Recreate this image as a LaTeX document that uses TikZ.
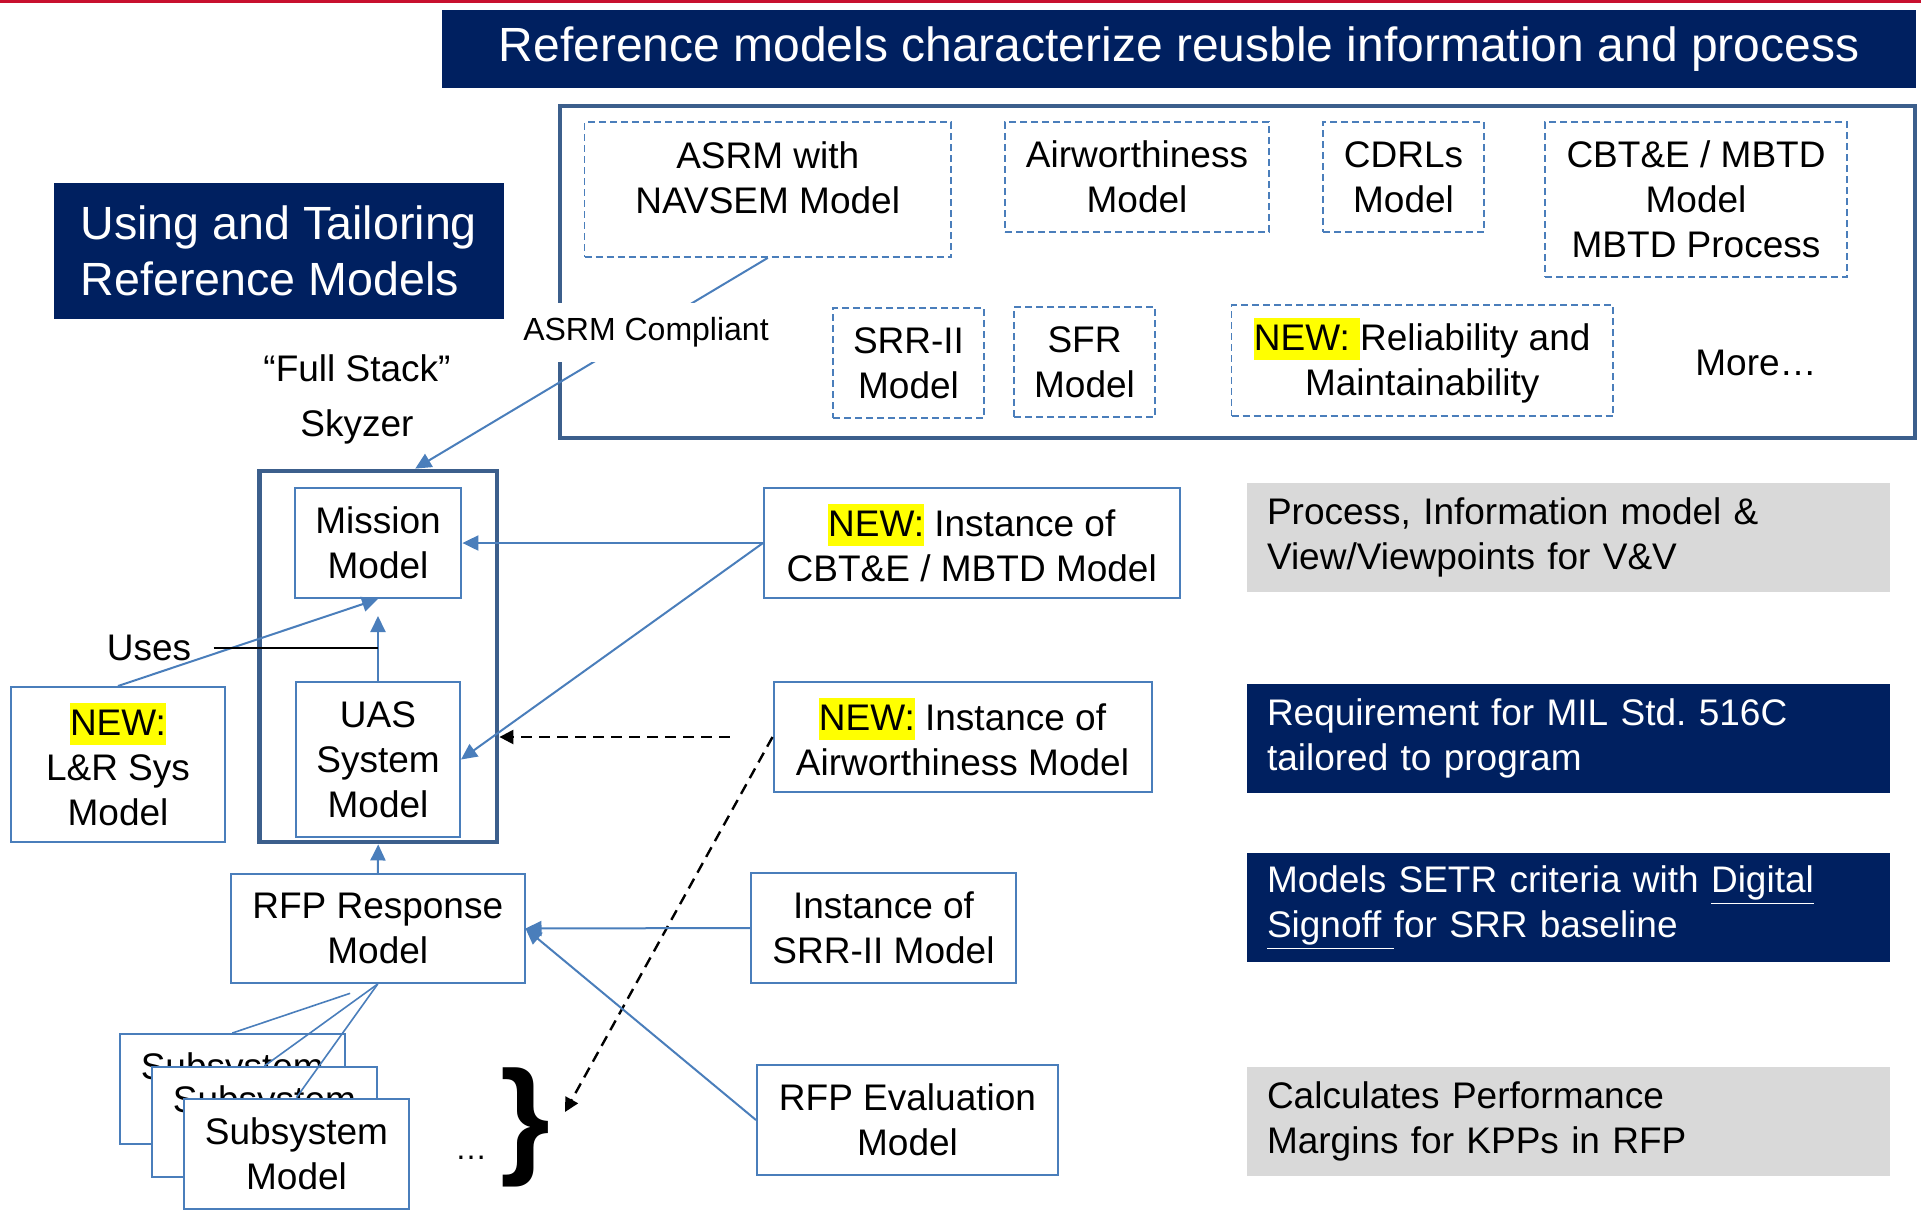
\documentclass[tikz,border=0pt]{standalone}
\usepackage{fontspec}
\setmainfont{Liberation Sans}
\usetikzlibrary{arrows.meta,calc}
\definecolor{navy}{RGB}{0,32,96}
\definecolor{lblue}{RGB}{74,126,187}
\definecolor{dblue}{RGB}{60,95,140}
\definecolor{gray9}{RGB}{217,217,217}
\definecolor{hlyel}{RGB}{255,255,0}
\definecolor{topred}{RGB}{200,16,46}
\frenchspacing

\begin{document}
\begin{tikzpicture}[x=0.5pt,y=-0.5pt,
  f/.style={font=\fontsize{18.5}{22.5}\selectfont},
  mb/.style={f,draw=lblue,line width=1pt,fill=white,align=center,inner sep=0pt},
  db/.style={f,draw=lblue,line width=0.9pt,dash pattern=on 3.5pt off 2pt,align=center,inner sep=0pt},
  rb/.style={f,inner sep=0pt,minimum width=321.35pt,minimum height=54.5pt,text width=301.35pt,align=left},
  hd/.style={fill=navy,text=white,inner sep=0pt},
  ar/.style={draw=lblue,line width=1pt,-{Triangle[length=8pt,width=7.5pt]}},
  da/.style={draw=black,line width=1.2pt,dash pattern=on 5.5pt off 3.5pt,-{Triangle[length=7pt,width=7pt]}},
  ln/.style={draw=lblue,line width=0.8pt}]
  % yellow marker behind a word
  \newcommand{\hlt}[1]{{\setlength{\fboxsep}{0pt}\colorbox{hlyel}{\rule[-0.26em]{0pt}{1.125em}#1}}}

  \useasboundingbox (0,0) rectangle (1921,1211);
  \draw[topred,line width=1.5pt] (0,1.5) -- (1921,1.5);

  % headers
  \node[hd,minimum width=737pt,minimum height=39pt,font=\fontsize{24}{28.8}\selectfont] (title) at (1179,49)
    {Reference models characterize reusble information and process};
  \node[hd,minimum width=224.8pt,minimum height=67.85pt,align=left,
    font=\fontsize{23.3}{28.2}\selectfont] (using) at (278.8,250.85) {Using and Tailoring\\Reference Models};

  % library of reference models
  \node[draw=dblue,line width=2.2pt,minimum width=677.5pt,minimum height=166pt,inner sep=0pt] (lib) at (1237.5,272) {};
  \node[db,minimum width=183.25pt,minimum height=67.5pt] (asrm) at (767.75,189.5) {};
  \node[f,align=center] (asrmtxt) at (767.75,177.5) {ASRM with\\NAVSEM Model};
  \node[db,minimum width=132pt,minimum height=55pt] (air) at (1137,177) {Airworthiness\\Model};
  \node[db,minimum width=80.5pt,minimum height=55pt] (cdrl) at (1403.5,177) {CDRLs\\Model};
  \node[db,minimum width=151pt,minimum height=77.5pt] (cbtm) at (1696,199.5) {CBT\&E / MBTD\\Model\\MBTD Process};
  \node[db,minimum width=75.5pt,minimum height=55pt] (srrm) at (908.5,363) {SRR-II\\Model};
  \node[db,minimum width=70.5pt,minimum height=55pt] (sfr) at (1084.5,362) {SFR\\Model};
  \node[db,minimum width=190.75pt,minimum height=55.5pt] (relm) at (1422.25,360.5) {\hlt{NEW:~}Reliability and\\Maintainability};
  \node[f] (more) at (1756,363) {More…};

  % full stack
  \node[draw=dblue,line width=2.4pt,minimum width=118.75pt,minimum height=185.5pt,inner sep=0pt] (stack) at (378.25,656.5) {};
  \node[f,align=center] (stk) at (357,399) {“Full Stack”\\[5pt]Skyzer};
  \node[mb,minimum width=83.4pt,minimum height=55pt] (mission) at (378,543) {Mission\\Model};
  \node[mb,minimum width=82pt,minimum height=77.5pt] (uas) at (378,759.5) {UAS\\System\\Model};
  \node[mb,minimum width=107pt,minimum height=77.5pt] (lr) at (118,764.5) {\hlt{NEW:}\\L\&R Sys\\Model};
  \node[f,inner xsep=11pt] (uses) at (149,648) {Uses};

  % instances
  \node[mb,minimum width=207.75pt,minimum height=55pt] (cbt) at (971.75,543) {\hlt{NEW:} Instance of\\CBT\&E / MBTD Model};
  \node[mb,minimum width=189pt,minimum height=55pt] (aw) at (962.5,737) {\hlt{NEW:} Instance of\\Airworthiness Model};
  \node[mb,minimum width=146.75pt,minimum height=54.5pt] (rfp) at (377.75,928.5) {RFP Response\\Model};
  \node[mb,minimum width=132.5pt,minimum height=55pt] (srr) at (883.5,928) {Instance of\\SRR-II Model};
  \node[mb,minimum width=150.5pt,minimum height=55pt] (eval) at (907.5,1120) {RFP Evaluation\\Model};
  \foreach \i/\x/\y in {1/232.3/1089,2/264.4/1122,3/296.5/1153.5}
    \node[mb,minimum width=112.7pt,minimum height=55pt] (sub\i) at (\x,\y) {Subsystem\\Model};
  \node[font=\fontsize{16}{19}\selectfont] (dots) at (471,1158) {…};
  \node[font=\bfseries\fontsize{64}{70}\selectfont,inner sep=0pt] (brace) at (525,1127) {\}};
  \coordinate (tip) at (565,1112);

  % notes on the right
  \node[rb,fill=gray9] (r1) at (1568.35,537) {Process, Information model \&\\View/Viewpoints for V\&V};
  \node[rb,fill=navy,text=white] (r2) at (1568.35,738) {Requirement for MIL Std. 516C\\tailored to program};
  \node[rb,fill=navy,text=white] (r3) at (1568.35,907.5) {Models SETR criteria with \underline{Digital}\\\underline{Signoff }for SRR baseline};
  \node[rb,fill=gray9] (r4) at (1568.35,1121) {Calculates Performance\\Margins for KPPs in RFP};

  % connectors
  \draw[ar] (asrm.south) -- ([xshift=18.5pt]stack.north);
  \node[fill=white,font=\fontsize{16}{19}\selectfont,minimum height=29.5pt,inner xsep=2.75pt] (comp) at (646,332) {ASRM Compliant};
  \draw[ar] (lr.north) -- (mission.south);
  \draw[ar] (uas.north) -- ([yshift=-8.5pt]mission.south);
  \draw[line width=0.8pt] (uses.east) -- (uses.east -| uas.north);
  \draw[ar] (cbt.west) -- (mission.east);
  \draw[ar] (cbt.west) -- (uas.east);
  \coordinate (awl) at ([xshift=-21.5pt]aw.west);
  \draw[da] (awl) -- (awl -| stack.east);
  \draw[da] (aw.west) -- (tip);
  \draw[ar] (rfp.north) -- (stack.south);
  \draw[ar] (srr.west) -- (rfp.east);
  \draw[ar] (eval.west) -- (rfp.east);
  \draw[ln] ($(rfp.south)!0.19!(sub1.north)$) -- (sub1.north);
  \draw[ln] (rfp.south) -- (sub2.north);
  \draw[ln] (rfp.south) -- (sub3.north);
\end{tikzpicture}
\end{document}
